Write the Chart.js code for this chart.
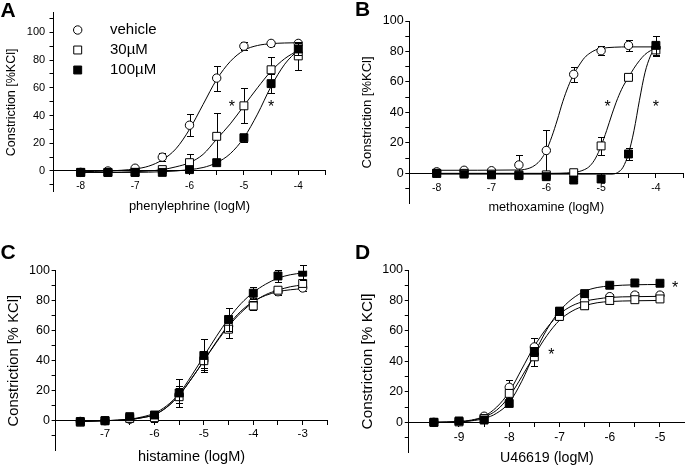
<!DOCTYPE html>
<html>
<head>
<meta charset="utf-8">
<script src="https://cdn.jsdelivr.net/npm/chart.js@4.4.0/dist/chart.umd.min.js"></script>
<style>
    html, body { margin: 0; padding: 0; background: #fff; }
    body { position: relative; width: 685px; height: 465px; overflow: hidden; }
    canvas { position: absolute; }
</style>
</head>
<body>
<canvas id="panelA"></canvas>
<canvas id="panelB"></canvas>
<canvas id="panelC"></canvas>
<canvas id="panelD"></canvas>
<script>
const FONT = '"Liberation Sans", Arial, Helvetica, sans-serif';
const seriesLabels = ['vehicle', '30µM', '100µM'];
const yLabels = [0, 20, 40, 60, 80, 100];

// A - phenylephrine
const aDoses = [-8, -7.5, -7, -6.5, -6, -5.5, -5, -4.5, -4];
const aVehicle = [-1, 0, 2, 10, 33, 67, 90, 92, 92];
const aVehicleErr = [1, 1, 1, 3, 8, 9, 3, 2, 2];
const a30 = [-1, -1, -1, 1, 6, 25, 47, 73, 83];
const a30Err = [1, 1, 1, 1, 6, 17, 12.5, 9, 10];
const a100 = [-1, -1, -1, -1, 1, 6, 24, 63, 88];
const a100Err = [1, 1, 1, 1, 1, 1, 3, 7, 4];
const aFitVehicle = [[-8, -0.5], [-7.5, 0], [-7, 1.5], [-6.75, 3.5], [-6.5, 8], [-6.25, 16], [-6, 30], [-5.75, 48], [-5.5, 66], [-5.25, 79], [-5, 87], [-4.75, 90.5], [-4.5, 91.8], [-4.25, 92.3], [-4, 92.5]];
const aFit30 = [[-8, -1], [-7.5, -1], [-7, -0.5], [-6.75, 0], [-6.5, 1], [-6.25, 3], [-6, 6], [-5.75, 12], [-5.5, 23], [-5.25, 34], [-5, 47], [-4.75, 60], [-4.5, 72], [-4.25, 81], [-4, 87]];
const aFit100 = [[-8, -1], [-7, -1], [-6.5, -0.5], [-6.25, 0], [-6, 1], [-5.75, 2.5], [-5.5, 6], [-5.25, 12.5], [-5, 24], [-4.75, 41], [-4.5, 61], [-4.25, 77], [-4, 87.5]];
const aStarX = [-5.22, -4.5];
const aStarY = [49, 49];
const aXTicks = [-8, -7.5, -7, -6.5, -6, -5.5, -5, -4.5, -4, -3.5];
const aXLabels = [-8, -7, -6, -5, -4];
const aYTicks = [-10, 0, 10, 20, 30, 40, 50, 60, 70, 80, 90, 100, 110];

// B - methoxamine
const bDoses = [-8, -7.5, -7, -6.5, -6, -5.5, -5, -4.5, -4];
const bVehicle = [1, 2, 1.7, 5.5, 15, 65, 80.5, 84, 82.5];
const bVehicleErr = [1, 1, 1, 6.5, 13.5, 5, 3, 3.5, 2];
const b30 = [0, 0, -0.5, -1, -1, 0.4, 18, 63, 81];
const b30Err = [0.5, 0.5, 0.5, 0.5, 0.5, 0.5, 6, 1, 4];
const b100 = [0, -0.5, -1, -1.5, -2.2, -4.4, -3.7, 12.7, 84];
const b100Err = [0.5, 0.5, 0.5, 0.5, 0.5, 0.5, 0.5, 4, 6];
const bFitVehicle = [[-8, 2], [-6.5, 2.2], [-6.3, 3.5], [-6.2, 5.5], [-6.1, 9], [-6, 15], [-5.9, 24], [-5.8, 35], [-5.7, 47], [-5.6, 57], [-5.5, 65], [-5.4, 71], [-5.3, 76], [-5.2, 79], [-5.1, 81], [-5, 82], [-4.75, 82.8], [-4.5, 83], [-4, 83]];
const bFit30 = [[-8, 0], [-6, 0], [-5.5, 0.6], [-5.3, 2.5], [-5.2, 5], [-5.1, 10], [-5, 18], [-4.9, 28], [-4.8, 39], [-4.7, 49], [-4.6, 57], [-4.5, 63], [-4.4, 69], [-4.3, 74], [-4.2, 78], [-4.1, 80.5], [-4, 82]];
const bFit100 = [[-8, -0.5], [-4.8, -0.5], [-4.7, 0.5], [-4.6, 4], [-4.5, 13], [-4.4, 28], [-4.3, 48], [-4.2, 66], [-4.1, 77], [-4, 83]];
const bStarX = [-4.88, -4.0];
const bStarY = [46, 46];
const bXTicks = [-8, -7.5, -7, -6.5, -6, -5.5, -5, -4.5, -4, -3.5];
const bXLabels = [-8, -7, -6, -5, -4];
const bYTicks = [-10, 0, 10, 20, 30, 40, 50, 60, 70, 80, 90, 100];

// C - histamine
const cDoses = [-7.5, -7, -6.5, -6, -5.5, -5, -4.5, -4, -3.5, -3];
const cVehicle = [-0.5, 0, 1, 2, 17, 40, 63, 79, 86, 88.5];
const cVehicleErr = [1, 1, 1, 3, 5, 5, 4, 3, 2, 2];
const c30 = [-1, 0, 1.5, 2, 16, 40, 61, 76.5, 87, 91.5];
const c30Err = [1, 1, 1, 2, 7, 6, 6, 3, 2, 2];
const c100 = [-0.5, 0, 2.7, 3.8, 18.5, 43.5, 67.5, 85, 96.5, 99];
const c100Err = [1, 1, 1, 2, 9.5, 11, 7.5, 4, 4, 5];
const cFitVehicle = [[-7.5, -0.5], [-7, 0], [-6.5, 0.8], [-6.25, 2], [-6, 4], [-5.75, 9], [-5.5, 17], [-5.25, 28], [-5, 40], [-4.75, 52.5], [-4.5, 64], [-4.25, 73], [-4, 79.5], [-3.75, 83.5], [-3.5, 86], [-3.25, 87.3], [-3, 88]];
const cFit30 = [[-7.5, -0.5], [-7, 0], [-6.5, 0.8], [-6.25, 2], [-6, 4], [-5.75, 9], [-5.5, 17], [-5.25, 28], [-5, 40], [-4.75, 52], [-4.5, 63], [-4.25, 72], [-4, 79], [-3.75, 84], [-3.5, 87], [-3.25, 89.3], [-3, 90.5]];
const cFit100 = [[-7.5, -0.5], [-7, 0], [-6.5, 1], [-6.25, 2.5], [-6, 5], [-5.75, 10], [-5.5, 18], [-5.25, 30], [-5, 43], [-4.75, 56], [-4.5, 68], [-4.25, 78], [-4, 85.5], [-3.75, 91], [-3.5, 95], [-3.25, 97.3], [-3, 98.5]];
const cStarX = [];
const cStarY = [];
const cXTicks = [-7.5, -7, -6.5, -6, -5.5, -5, -4.5, -4, -3.5, -3, -2.5];
const cXLabels = [-7, -6, -5, -4, -3];
const cYTicks = [-10, 0, 10, 20, 30, 40, 50, 60, 70, 80, 90, 100];

// D - U46619
const dDoses = [-9.5, -9, -8.5, -8, -7.5, -7, -6.5, -6, -5.5, -5];
const dVehicle = [0, 0.5, 4, 23, 49.5, 70, 80, 82.5, 83.5, 83.5];
const dVehicleErr = [0.5, 0.5, 1, 5, 6, 3, 2, 2, 2, 2];
const d30 = [0, 0.3, 2.5, 19, 43, 69.5, 76.5, 80, 80.5, 81];
const d30Err = [0.5, 0.5, 1, 3, 6, 2, 2, 2, 1.5, 1.5];
const d100 = [0, 0.9, 1.5, 12.4, 46.5, 73, 84.5, 90, 91.5, 91.3];
const d100Err = [0.5, 0.5, 1, 1.5, 3, 2.5, 2, 1.5, 1, 1];
const dFitVehicle = [[-9.5, 0], [-9, 0.5], [-8.75, 1.5], [-8.5, 4], [-8.25, 10], [-8, 20], [-7.75, 35], [-7.5, 50], [-7.25, 62], [-7, 71], [-6.75, 76.5], [-6.5, 79.5], [-6.25, 81], [-6, 82], [-5.5, 82.5], [-5, 82.7]];
const dFit30 = [[-9.5, 0], [-9, 0.3], [-8.75, 1.2], [-8.5, 3.5], [-8.25, 8], [-8, 17], [-7.75, 30], [-7.5, 44], [-7.25, 57], [-7, 67], [-6.75, 73], [-6.5, 76.5], [-6.25, 78.5], [-6, 79.3], [-5.5, 79.8], [-5, 80]];
const dFit100 = [[-9.5, 0], [-9, 0.5], [-8.75, 1], [-8.5, 2.5], [-8.25, 6], [-8, 13], [-7.75, 27], [-7.5, 45], [-7.25, 61], [-7, 73], [-6.75, 81], [-6.5, 86], [-6.25, 88.5], [-6, 89.5], [-5.5, 90.3], [-5, 90.5]];
const dStarX = [-4.7, -7.16];
const dStarY = [90.8, 47];
const dXTicks = [-9.5, -9, -8.5, -8, -7.5, -7, -6.5, -6, -5.5, -5, -4.5];
const dXLabels = [-9, -8, -7, -6, -5];
const dYTicks = [-10, 0, 10, 20, 30, 40, 50, 60, 70, 80, 90, 100];

// marker look per series (vehicle, 30µM, 100µM)
const markerStyles = [
    { pointStyle: 'circle', radius: 4.2, fill: '#fff' },
    { pointStyle: 'rect', radius: 5.6, fill: '#fff' },
    { pointStyle: 'rect', radius: 5.6, fill: '#000' }
];

const TICK = 4;

// page coordinates and type sizes of every panel
const panels = [
    {
        id: 'panelA', letter: 'A', letterX: 0.5, letterY: 16.7,
        box: { left: 0, top: 0, width: 345, height: 240 },
        area: { left: 53.5, top: 12.9, right: 325.5, bottom: 191.8 },
        fonts: { yTick: 11, xTick: 10, xTitle: 12.9, yTitle: 12.5 },
        yTitleX: 12, yLabelGap: 8.3, xLabelY: 186, xTitleY: 206.5,
        xMin: -8.5, xMax: -3.5, yMin: -15, yMax: 114,
        xTitle: 'phenylephrine (logM)', yTitle: 'Constriction [%KCl]',
        doses: aDoses, xTicks: aXTicks, xLabels: aXLabels, yTicks: aYTicks,
        means: [aVehicle, a30, a100], errs: [aVehicleErr, a30Err, a100Err], fits: [aFitVehicle, aFit30, aFit100],
        starX: aStarX, starY: aStarY,
        legend: { markerX: 77.7, textX: 110, rows: [30, 50, 70] }
    },
    {
        id: 'panelB', letter: 'B', letterX: 355, letterY: 16,
        box: { left: 340, top: 0, width: 360, height: 240 },
        area: { left: 409.3, top: 21, right: 683.3, bottom: 203.8 },
        fonts: { yTick: 12.5, xTick: 10.5, xTitle: 12.7, yTitle: 13 },
        yTitleX: 367.5, yLabelGap: 5.7, xLabelY: 188.3, xTitleY: 207,
        xMin: -8.5, xMax: -3.5, yMin: -20, yMax: 100,
        xTitle: 'methoxamine (logM)', yTitle: 'Constriction [%KCl]',
        doses: bDoses, xTicks: bXTicks, xLabels: bXLabels, yTicks: bYTicks,
        means: [bVehicle, b30, b100], errs: [bVehicleErr, b30Err, b100Err], fits: [bFitVehicle, bFit30, bFit100],
        starX: bStarX, starY: bStarY
    },
    {
        id: 'panelC', letter: 'C', letterX: 0.6, letterY: 259.3,
        box: { left: 0, top: 232, width: 345, height: 240 },
        area: { left: 55.6, top: 270.7, right: 327.4, bottom: 450.7 },
        fonts: { yTick: 12.5, xTick: 11.5, xTitle: 14.5, yTitle: 14.8 },
        yTitleX: 14, yLabelGap: 5.7, xLabelY: 434.2, xTitleY: 457,
        xMin: -8, xMax: -2.5, yMin: -20, yMax: 100,
        xTitle: 'histamine (logM)', yTitle: 'Constriction [% KCl]',
        doses: cDoses, xTicks: cXTicks, xLabels: cXLabels, yTicks: cYTicks,
        means: [cVehicle, c30, c100], errs: [cVehicleErr, c30Err, c100Err], fits: [cFitVehicle, cFit30, cFit100],
        starX: cStarX, starY: cStarY
    },
    {
        id: 'panelD', letter: 'D', letterX: 355, letterY: 258.7,
        box: { left: 340, top: 232, width: 360, height: 240 },
        area: { left: 408.75, top: 270, right: 685.1, bottom: 452.8 },
        fonts: { yTick: 12.5, xTick: 12, xTitle: 14.2, yTitle: 15.3 },
        yTitleX: 367.5, yLabelGap: 5.7, xLabelY: 437.8, xTitleY: 458,
        xMin: -10, xMax: -4.5, yMin: -20, yMax: 100,
        xTitle: 'U46619 (logM)', yTitle: 'Constriction [% KCl]',
        doses: dDoses, xTicks: dXTicks, xLabels: dXLabels, yTicks: dYTicks,
        means: [dVehicle, d30, d100], errs: [dVehicleErr, d30Err, d100Err], fits: [dFitVehicle, dFit30, dFit100],
        starX: dStarX, starY: dStarY
    }
];

// vertical SEM bars, drawn just before each marker dataset
const errorBars = {
    id: 'errorBars',
    beforeDatasetDraw(chart, args) {
        const ds = chart.data.datasets[args.index];
        if (!ds.err) return;
        const ctx = chart.ctx;
        const yScale = chart.scales.y;
        ctx.save();
        ctx.strokeStyle = '#000';
        ctx.lineWidth = 1;
        args.meta.data.forEach((pt, j) => {
            const v = ds.data[j].y;
            const e = ds.err[j];
            const yTop = Math.round(yScale.getPixelForValue(v + e)) + 0.5;
            const yBot = Math.round(yScale.getPixelForValue(v - e)) + 0.5;
            const x = Math.round(pt.x) + 0.5;
            ctx.beginPath();
            ctx.moveTo(x, yTop); ctx.lineTo(x, yBot);
            ctx.moveTo(x - 3.5, yTop); ctx.lineTo(x + 3.5, yTop);
            ctx.moveTo(x - 3.5, yBot); ctx.lineTo(x + 3.5, yBot);
            ctx.stroke();
        });
        ctx.restore();
    }
};

function drawMarker(ctx, style, x, y) {
    ctx.beginPath();
    if (style.pointStyle === 'circle') {
        ctx.arc(x, y, style.radius, 0, Math.PI * 2);
    } else {
        const h = style.radius * Math.SQRT1_2;
        ctx.rect(x - h, y - h, h * 2, h * 2);
    }
    ctx.fillStyle = style.fill;
    ctx.fill();
    ctx.strokeStyle = '#000';
    ctx.lineWidth = 1;
    ctx.stroke();
}

// panel letter, significance stars and the legend of panel A
const decorations = {
    id: 'decorations',
    afterDraw(chart, args, opts) {
        const p = opts.panel;
        const ctx = chart.ctx;
        const ox = p.box.left, oy = p.box.top;
        ctx.save();
        ctx.fillStyle = '#000';
        ctx.textBaseline = 'alphabetic';
        ctx.textAlign = 'left';
        ctx.font = 'bold 21px ' + FONT;
        ctx.fillText(p.letter, p.letterX - ox, p.letterY - oy);

        ctx.font = '16px ' + FONT;
        ctx.textAlign = 'center';
        p.starX.forEach((sx, i) => {
            const px = chart.scales.x.getPixelForValue(sx);
            const py = chart.scales.y.getPixelForValue(p.starY[i]);
            ctx.fillText('*', px, py + 9);
        });

        if (p.legend) {
            ctx.font = '15px ' + FONT;
            ctx.textAlign = 'left';
            ctx.textBaseline = 'middle';
            p.legend.rows.forEach((ry, i) => {
                drawMarker(ctx, markerStyles[i], p.legend.markerX - ox, ry - oy);
                ctx.fillStyle = '#000';
                ctx.fillText(seriesLabels[i], p.legend.textX - ox, ry - oy);
            });
        }
        ctx.restore();
    }
};

function buildPanel(p) {
    const canvas = document.getElementById(p.id);
    canvas.width = p.box.width;
    canvas.height = p.box.height;
    canvas.style.left = p.box.left + 'px';
    canvas.style.top = p.box.top + 'px';

    // the x axis sits on y = 0 and takes no layout room of its own
    const f = p.fonts;
    const padLeft = p.yTitleX - p.box.left - f.yTitle * 1.2 / 2;
    const yWidth = p.area.left - p.box.left - padLeft;
    const padTop = p.area.top - p.box.top;
    const padRight = p.box.left + p.box.width - p.area.right;
    const padBottom = p.box.top + p.box.height - p.area.bottom;
    const zeroPx = p.area.top + p.yMax / (p.yMax - p.yMin) * (p.area.bottom - p.area.top);
    const xHeight = p.xTitleY - zeroPx + f.xTitle * 1.2 / 2;
    const xPad = p.xLabelY - zeroPx - TICK - f.xTick * 1.2 / 2;
    const yPad = p.yLabelGap - TICK;

    const datasets = [];
    p.means.forEach((mean, i) => {
        const st = markerStyles[i];
        datasets.push({
            label: seriesLabels[i],
            data: p.doses.map((x, j) => ({ x: x, y: mean[j] })),
            err: p.errs[i],
            showLine: false,
            pointStyle: st.pointStyle,
            pointRadius: st.radius,
            pointHoverRadius: st.radius,
            pointBackgroundColor: st.fill,
            pointBorderColor: '#000',
            pointBorderWidth: 1,
            order: 3 - i
        });
    });
    p.fits.forEach((fit) => {
        datasets.push({
            data: fit.map(([x, y]) => ({ x: x, y: y })),
            showLine: true,
            pointRadius: 0,
            pointHoverRadius: 0,
            borderColor: '#000',
            borderWidth: 1,
            cubicInterpolationMode: 'monotone',
            fill: false,
            order: 10
        });
    });

    new Chart(canvas, {
        type: 'scatter',
        data: { datasets: datasets },
        options: {
            responsive: false,
            animation: false,
            events: [],
            devicePixelRatio: 1,
            layout: { padding: { left: padLeft, top: padTop, right: padRight, bottom: padBottom } },
            plugins: {
                legend: { display: false },
                tooltip: { enabled: false },
                decorations: { panel: p }
            },
            scales: {
                x: {
                    type: 'linear',
                    min: p.xMin,
                    max: p.xMax,
                    position: { y: 0 },
                    afterBuildTicks: s => { s.ticks = p.xTicks.map(v => ({ value: v })); },
                    afterFit: s => { s.height = xHeight; },
                    ticks: {
                        autoSkip: false, maxRotation: 0, padding: xPad, color: '#000',
                        font: { family: FONT, size: f.xTick },
                        callback: v => p.xLabels.includes(v) ? String(v) : ''
                    },
                    grid: { drawOnChartArea: false, drawTicks: true, tickLength: TICK, color: '#000', lineWidth: 1 },
                    border: { display: true, color: '#000', width: 1 },
                    title: { display: true, text: p.xTitle, color: '#000', padding: 0, font: { family: FONT, size: f.xTitle } }
                },
                y: {
                    type: 'linear',
                    position: 'left',
                    min: p.yMin,
                    max: p.yMax,
                    afterBuildTicks: s => { s.ticks = p.yTicks.map(v => ({ value: v })); },
                    afterFit: s => { s.width = yWidth; },
                    ticks: {
                        autoSkip: false, padding: yPad, color: '#000',
                        font: { family: FONT, size: f.yTick },
                        callback: v => yLabels.includes(v) ? String(v) : ''
                    },
                    grid: { drawOnChartArea: false, drawTicks: true, tickLength: TICK, color: '#000', lineWidth: 1 },
                    border: { display: true, color: '#000', width: 1 },
                    title: { display: true, text: p.yTitle, color: '#000', padding: 0, font: { family: FONT, size: f.yTitle } }
                }
            }
        },
        plugins: [errorBars, decorations]
    });
}

panels.forEach(buildPanel);
</script>
</body>
</html>
